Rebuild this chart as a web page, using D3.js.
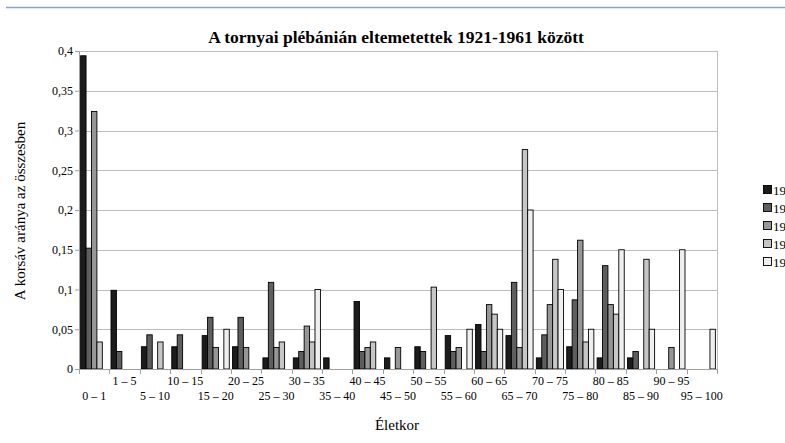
<!DOCTYPE html>
<html>
<head>
<meta charset="utf-8">
<script src="https://cdn.jsdelivr.net/npm/d3@7"></script>
<style>
  body { margin: 0; background: #fff; }
</style>
</head>
<body>
<script>
const width = 785;
const height = 443;
const margin = { top: 51, right: 68, bottom: 74, left: 79 };
const serif = "'Liberation Serif', 'Times New Roman', 'DejaVu Serif', serif";

// korcsoportok
const categories = [
  "0 – 1", "1 – 5", "5 – 10", "10 – 15", "15 – 20", "20 – 25", "25 – 30",
  "30 – 35", "35 – 40", "40 – 45", "45 – 50", "50 – 55", "55 – 60",
  "60 – 65", "65 – 70", "70 – 75", "75 – 80", "80 – 85", "85 – 90",
  "90 – 95", "95 – 100",
];

const seriesNames = ["1921-1930", "1931-1940", "1941-1950", "1951-1960", "1961"];

const s1 = [0.394, 0.099, 0.028, 0.028, 0.042, 0.028, 0.014, 0.014, 0.014, 0.085, 0.014,
  0.028, 0.042, 0.056, 0.042, 0.014, 0.028, 0.014, 0.014, 0, 0];
const s2 = [0.152, 0.022, 0.043, 0.043, 0.065, 0.065, 0.109, 0.022, 0, 0.022, 0,
  0.022, 0.022, 0.022, 0.109, 0.043, 0.087, 0.13, 0.022, 0, 0];
const s3 = [0.324, 0, 0, 0, 0.027, 0.027, 0.027, 0.054, 0, 0.027, 0.027,
  0, 0.027, 0.081, 0.027, 0.081, 0.162, 0.081, 0, 0.027, 0];
const s4 = [0.034, 0, 0.034, 0, 0, 0, 0.034, 0.034, 0, 0.034, 0,
  0.103, 0, 0.069, 0.276, 0.138, 0.034, 0.069, 0.138, 0, 0];
const s5 = [0, 0, 0, 0, 0.05, 0, 0, 0.1, 0, 0, 0,
  0, 0.05, 0.05, 0.2, 0.1, 0.05, 0.15, 0.05, 0.15, 0.05];

const yTicks = [0, 0.05, 0.1, 0.15, 0.2, 0.25, 0.3, 0.35, 0.4];

const colors = ["#1c1c1c", "#5e5e5e", "#969696", "#c6c6c6", "#efefef"];
const series = [s1, s2, s3, s4, s5];

const svg = d3.select("body").append("svg")
  .attr("width", width)
  .attr("height", height)
  .attr("font-family", serif);

// felső kék vonal
svg.append("line")
  .attr("x1", 6).attr("x2", width).attr("y1", 7.5).attr("y2", 7.5)
  .attr("stroke", "#8aa3c6").attr("stroke-width", 1.5);

const innerW = width - margin.left - margin.right;
const innerH = height - margin.top - margin.bottom;

const x = d3.scaleBand().domain(categories).range([0, innerW]).padding(0);
const xSub = d3.scaleBand().domain(d3.range(5))
  .range([0, x.bandwidth()]).paddingOuter(0.3).paddingInner(0);
const y = d3.scaleLinear().domain([0, 0.4]).range([innerH, 0]);

const g = svg.append("g").attr("transform", `translate(${margin.left},${margin.top})`);

// rácsvonalak
g.append("g").selectAll("line").data(yTicks.slice(1)).join("line")
  .attr("x1", 0).attr("x2", innerW)
  .attr("y1", (d) => Math.round(y(d)) + 0.5).attr("y2", (d) => Math.round(y(d)) + 0.5)
  .attr("stroke", "#bdbdbd");

g.append("line")
  .attr("x1", innerW + 0.5).attr("x2", innerW + 0.5).attr("y1", 0).attr("y2", innerH)
  .attr("stroke", "#bdbdbd");

// oszlopok
series.forEach((vals, k) => {
  const pontok = vals.map((v, i) => ({ kat: categories[i], v })).filter((d) => d.v > 0);
  g.append("g").selectAll("rect").data(pontok).join("rect")
    .attr("x", (d) => x(d.kat) + xSub(k))
    .attr("y", (d) => y(d.v))
    .attr("width", xSub.bandwidth())
    .attr("height", (d) => innerH - y(d.v))
    .attr("fill", colors[k])
    .attr("stroke", "#000")
    .attr("stroke-width", 0.9);
});

// y tengely
const yAxis = d3.axisLeft(y).tickValues(yTicks).tickSize(4)
  .tickFormat((d) => String(d).replace(".", ","));
const ya = g.append("g").call(yAxis).attr("font-family", serif);
ya.select(".domain").attr("stroke", "#a0a0a0");
ya.selectAll(".tick line").attr("stroke", "#a0a0a0");
ya.selectAll("text").attr("font-size", 12).attr("x", -6);

// x tengely
const xa = g.append("g").attr("transform", `translate(0,${innerH})`);
xa.append("line").attr("x1", 0).attr("x2", innerW).attr("y1", 0.5).attr("y2", 0.5)
  .attr("stroke", "#a0a0a0");
xa.selectAll("line.tk").data(d3.range(categories.length + 1)).join("line")
  .attr("class", "tk")
  .attr("x1", (d) => Math.round(d * x.step()) + 0.5)
  .attr("x2", (d) => Math.round(d * x.step()) + 0.5)
  .attr("y1", 0).attr("y2", 5)
  .attr("stroke", "#a0a0a0");
xa.selectAll("text").data(categories).join("text")
  .attr("x", (d) => x(d) + x.bandwidth() / 2)
  .attr("y", (d, i) => (i % 2 === 0 ? 31 : 16))
  .attr("text-anchor", "middle")
  .attr("font-size", 12)
  .text((d) => d);

// címek
svg.append("text")
  .attr("x", 396).attr("y", 43)
  .attr("text-anchor", "middle")
  .attr("font-size", 17.5)
  .attr("font-weight", "bold")
  .text("A tornyai plébánián eltemetettek 1921-1961 között");

svg.append("text")
  .attr("x", 397).attr("y", 430)
  .attr("text-anchor", "middle")
  .attr("font-size", 15)
  .text("Életkor");

svg.append("text")
  .attr("transform", "translate(25,211) rotate(-90)")
  .attr("text-anchor", "middle")
  .attr("font-size", 15)
  .text("A korsáv aránya az összesben");

// jelmagyarázat (a kép jobb szélén levágva, mint az eredetin)
const legend = svg.append("g").attr("transform", "translate(763,185)");
seriesNames.forEach((name, k) => {
  const row = legend.append("g").attr("transform", `translate(0,${k * 18})`);
  row.append("rect").attr("x", 0.5).attr("y", 0.5).attr("width", 8).attr("height", 8)
    .attr("fill", colors[k]).attr("stroke", "#000").attr("stroke-width", 0.9);
  row.append("text").attr("x", 10).attr("y", 9.5).attr("font-size", 13).text(name);
});
</script>
</body>
</html>
